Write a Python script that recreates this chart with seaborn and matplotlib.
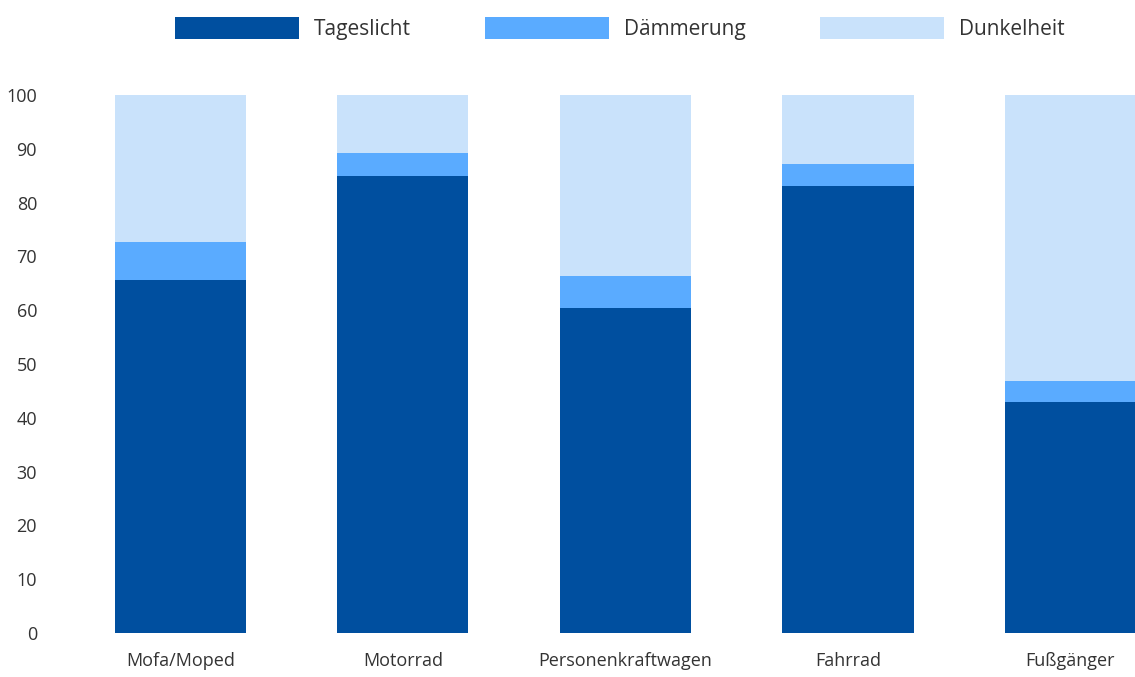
import numpy as np
import pandas as pd
import seaborn as sns
import matplotlib.pyplot as plt
from matplotlib.patches import Patch

# Data (percent shares)
categories = ["Mofa/Moped", "Motorrad", "Personenkraftwagen", "Fahrrad", "Fußgänger"]
tageslicht = [65.6, 84.9, 60.5, 83.0, 42.9]
daemmerung = [7.1, 4.3, 5.9, 4.2, 3.9]
dunkelheit = [27.3, 10.8, 33.6, 12.8, 53.2]
series_names = ["Tageslicht", "Dämmerung", "Dunkelheit"]
colors = ["#004f9f", "#5aabff", "#c9e2fb"]

df = pd.DataFrame({
    "Kategorie": categories,
    "Tageslicht": tageslicht,
    "Dämmerung": daemmerung,
    "Dunkelheit": dunkelheit,
})
# cumulative tops for stacking
df["top_dark"] = df["Tageslicht"]
df["top_mid"] = df["Tageslicht"] + df["Dämmerung"]
df["top_light"] = df["top_mid"] + df["Dunkelheit"]

sns.set_style("white")
plt.rcParams["font.family"] = ["Open Sans", "DejaVu Sans"]

fig = plt.figure(figsize=(11.35, 6.77), dpi=100)
ax = fig.add_axes([69 / 1135, 44 / 677, 1 - 69 / 1135, (633 - 95) / 677])

# draw from the tallest stack down so lower segments sit on top
for col, c in zip(["top_light", "top_mid", "top_dark"], colors[::-1]):
    sns.barplot(data=df, x="Kategorie", y=col, color=c, width=0.59,
                saturation=1, linewidth=0, edgecolor="none", ax=ax)

ax.set_ylim(0, 100)
ax.set_xlim(-0.5, 4.29)
ax.set_yticks(np.arange(0, 101, 10))
ax.set_xlabel("")
ax.set_ylabel("")
ax.tick_params(axis="both", length=0, labelsize=13, colors="#333333")
ax.tick_params(axis="y", pad=23)
ax.tick_params(axis="x", pad=14)
sns.despine(ax=ax, left=True, bottom=True)

handles = [Patch(facecolor=c, edgecolor="none") for c in colors]
fig.legend(handles, series_names, loc="center", bbox_to_anchor=(0.546, 0.958),
           ncol=3, frameon=False, fontsize=15, handlelength=5.95,
           handleheight=1.25, handletextpad=0.72, columnspacing=3.55,
           labelcolor="#333333")

fig.savefig("out.png", dpi=100)
